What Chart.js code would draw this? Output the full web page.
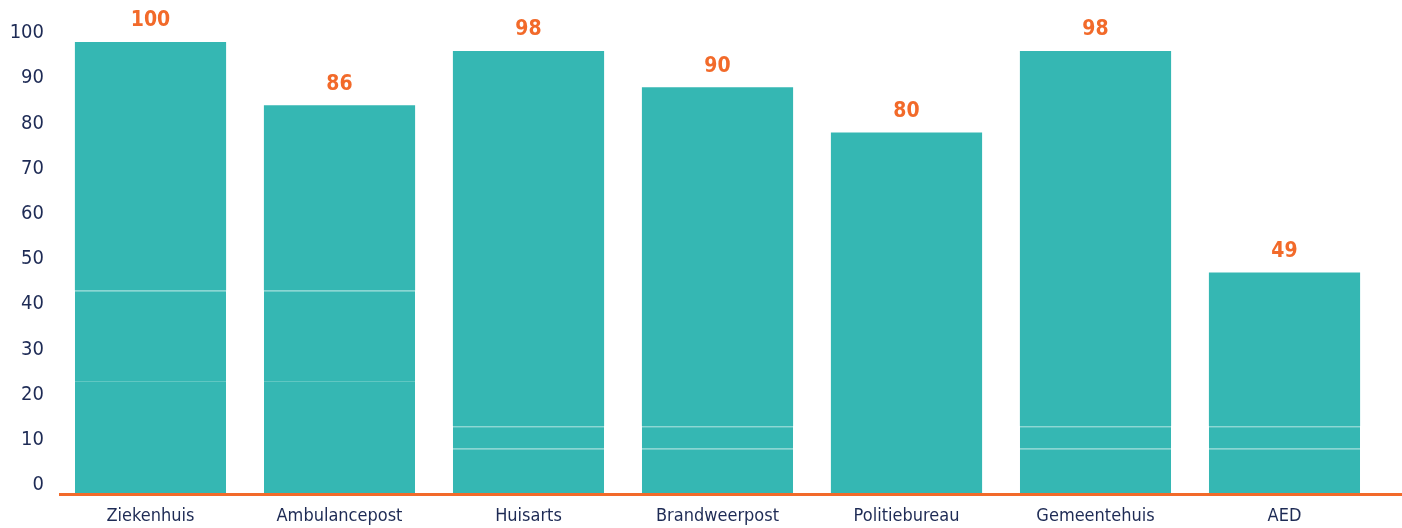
<!DOCTYPE html>
<html>
<head>
<meta charset="utf-8">
<script src="https://cdn.jsdelivr.net/npm/chart.js@4"></script>
<style>
  html, body { margin: 0; padding: 0; background: #fff; }
  #wrap { width: 1402px; height: 528px; }
</style>
</head>
<body>
<div id="wrap"><canvas id="chart"></canvas></div>
<script>
const categories = ['Ziekenhuis', 'Ambulancepost', 'Huisarts', 'Brandweerpost', 'Politiebureau', 'Gemeentehuis', 'AED'];
const segmentA = [25, 25, 10, 10, null, 10, 10];
const segmentB = [20, 20, 5, 5, null, 5, 5];
const segmentC = [55, 41, 83, 75, 80, 83, 34];
const yTicks = [0, 10, 20, 30, 40, 50, 60, 70, 80, 90, 100];

const teal = '#35b7b3';
const orange = '#f26a2a';
const navy = '#1e2b55';
const fontFamily = '"DejaVu Sans Condensed", "Liberation Sans", sans-serif';

const totals = categories.map((c, i) => (segmentA[i] || 0) + (segmentB[i] || 0) + (segmentC[i] || 0));

// totals above bars + orange baseline
const extras = {
    id: 'extras',
    afterDatasetsDraw(chart) {
        const ctx = chart.ctx;
        const x = chart.scales.x;
        const y = chart.scales.y;
        ctx.save();
        ctx.fillStyle = orange;
        ctx.font = 'bold 21px ' + fontFamily;
        ctx.textAlign = 'center';
        ctx.textBaseline = 'middle';
        totals.forEach((t, i) => {
            ctx.fillText(String(t), x.getPixelForValue(i), y.getPixelForValue(t) - 21);
        });
        const base = y.getPixelForValue(0) + 0.5;
        ctx.strokeStyle = orange;
        ctx.lineWidth = 3;
        ctx.beginPath();
        ctx.moveTo(chart.chartArea.left + 3, base);
        ctx.lineTo(chart.width, base);
        ctx.stroke();
        ctx.restore();
    }
};

const seg = (data, border) => ({
    data: data,
    backgroundColor: teal,
    borderColor: '#5fc7c2',
    borderWidth: border ? { top: 1 } : 0,
    borderSkipped: false,
    categoryPercentage: 0.8,
    barPercentage: 1.0
});

new Chart(document.getElementById('chart').getContext('2d'), {
    type: 'bar',
    data: {
        labels: categories,
        datasets: [seg(segmentA, true), seg(segmentB, true), seg(segmentC, false)]
    },
    options: {
        responsive: true,
        maintainAspectRatio: false,
        animation: false,
        layout: { padding: { top: 42, right: 23, bottom: 0, left: 0 } },
        plugins: {
            legend: { display: false },
            tooltip: { enabled: false }
        },
        scales: {
            x: {
                stacked: true,
                afterFit: (axis) => { axis.height = 34; },
                grid: { display: false },
                border: { display: false },
                ticks: {
                    color: navy,
                    font: { family: fontFamily, size: 18 },
                    padding: 4
                }
            },
            y: {
                stacked: true,
                min: 0,
                max: 100,
                afterFit: (axis) => { axis.width = 56; },
                afterBuildTicks: (axis) => { axis.ticks = yTicks.map(v => ({ value: v })); },
                grid: { display: false },
                border: { display: false },
                ticks: {
                    color: navy,
                    font: { family: fontFamily, size: 20 },
                    padding: 4,
                    labelOffset: -9
                }
            }
        }
    },
    plugins: [extras]
});
</script>
</body>
</html>
